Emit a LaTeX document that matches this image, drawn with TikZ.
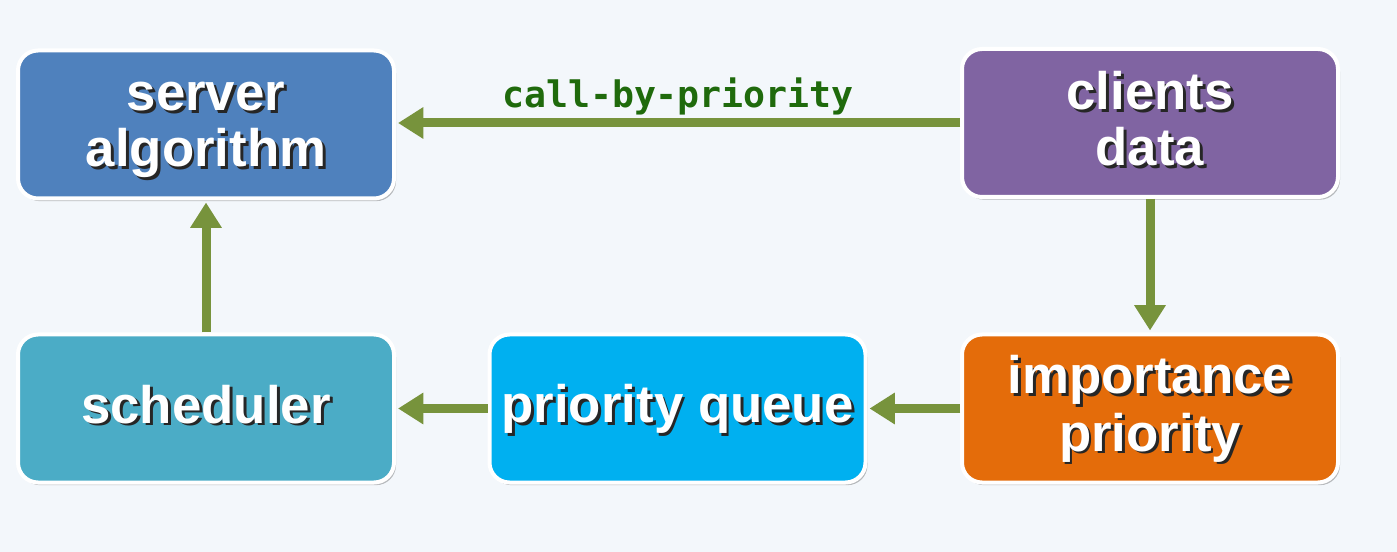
\documentclass[tikz,border=0pt]{standalone}
\usepackage{fontspec}
\usepackage{tikz}
\usetikzlibrary{arrows.meta,shadows}

\newfontfamily\boxfont{Liberation Sans}
\newfontfamily\labfont{DejaVu Sans Mono}

\definecolor{bgcol}{HTML}{F3F7FB}
\definecolor{srvcol}{HTML}{4F81BD}
\definecolor{clicol}{HTML}{8064A2}
\definecolor{schcol}{HTML}{4BACC6}
\definecolor{quecol}{HTML}{00B0F0}
\definecolor{impcol}{HTML}{E46C0A}
\definecolor{flowcol}{HTML}{77933C}
\definecolor{labcol}{HTML}{1F6A0C}

% Texte blanc avec ombre portée.
\newcommand{\txtshadow}[1]{\rule[-9.6pt]{0pt}{41pt}%
    \makebox[0pt][l]{\hspace{2.2pt}\raisebox{-2.2pt}{\color{black!85}#1}}#1}

\tikzset{
    block/.style={draw=white,line width=3pt,rounded corners=15pt,
        minimum width=282pt,minimum height=111pt,align=center,text=white,
        font=\boxfont\bfseries\fontsize{39.6}{40}\selectfont,
        drop shadow={shadow xshift=1.5pt,shadow yshift=-2pt,opacity=0.25,fill=black}},
    flow/.style={draw=flowcol,line width=6.75pt,shorten >=1.5pt,
        -{Triangle[width=22.5pt,length=19pt]}}
}

\begin{document}
\begin{tikzpicture}[x=0.75pt,y=-0.75pt]
    \useasboundingbox[fill=bgcol] (0,0) rectangle (1397,552);

    % Blocs du schéma.
    \node[block,fill=srvcol] (srv) at (206,124.5) {\txtshadow{server}\\\txtshadow{algorithm}};
    \node[block,fill=clicol] (cli) at (1150,123) {\txtshadow{clients}\\\txtshadow{data}};
    \node[block,fill=schcol] (sch) at (206,408.5) {\txtshadow{scheduler}};
    \node[block,fill=quecol] (que) at (677.5,408.5) {\txtshadow{priority queue}};
    \node[block,fill=impcol] (imp) at (1150,408.5) {\txtshadow{importance}\\\txtshadow{priority}};

    % Flèches.
    \draw[flow] (cli.west) -- (srv.east |- cli.west)
        node[midway,above=-1pt,text=labcol,
             font=\labfont\bfseries\fontsize{27.4}{30}\selectfont] (lab) {call-by-priority};
    \draw[flow] (cli) -- (imp);
    \draw[flow] (imp) -- (que);
    \draw[flow] (que) -- (sch);
    \draw[flow] (sch) -- (srv);
\end{tikzpicture}
\end{document}
